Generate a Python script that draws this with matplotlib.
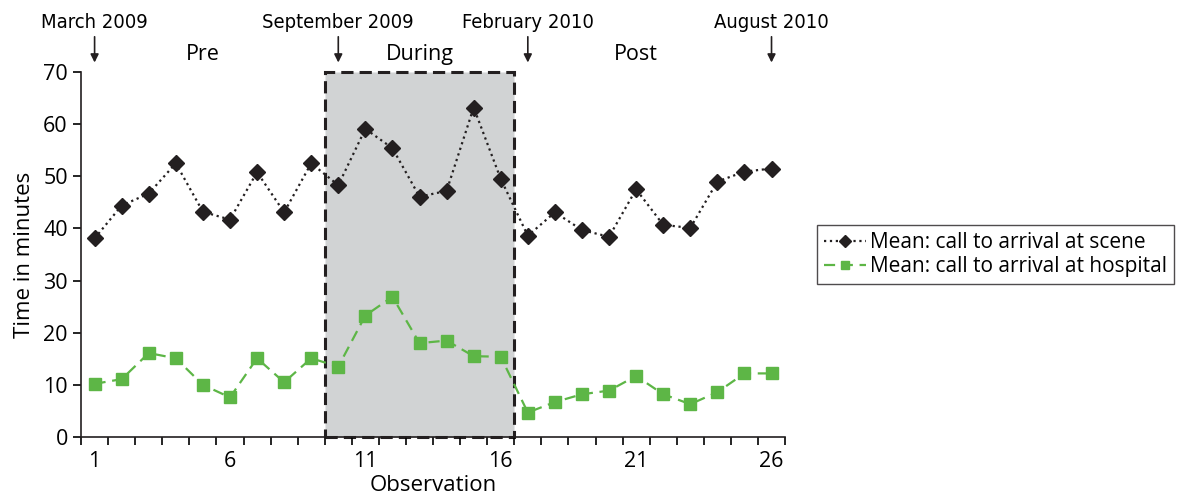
import numpy as np
import matplotlib.pyplot as plt
from matplotlib.patches import Rectangle

# dados
observacao = np.arange(1, 27)
cena = [38.1, 44.4, 46.7, 52.5, 43.2, 41.7, 50.8, 43.1, 52.5, 48.3,
        59.1, 55.4, 46.1, 47.2, 63.2, 49.5, 38.6, 43.1, 39.7, 38.4,
        47.5, 40.7, 40.1, 49.0, 50.9, 51.5]
hospital = [10.2, 11.1, 16.1, 15.1, 10.0, 7.6, 15.1, 10.5, 15.1, 13.5,
            23.3, 26.9, 18.0, 18.5, 15.5, 15.4, 4.7, 6.7, 8.2, 8.9,
            11.7, 8.2, 6.3, 8.6, 12.2, 12.2]

datas = ["March 2009", "September 2009", "February 2010", "August 2010"]
datas_x = [1, 10, 17, 26]
fases = ["Pre", "During", "Post"]
fases_x = [5, 13, 21]
intervencao = (9.5, 16.5)

plt.rcParams['font.family'] = ['Open Sans', 'DejaVu Sans']

fig = plt.figure(figsize=(11.92, 4.97), dpi=100)
ax = fig.add_axes([0.068, 0.1207, 0.5906, 0.7343])

ax.add_patch(Rectangle((intervencao[0], 0), intervencao[1] - intervencao[0], 70,
                       facecolor='#d1d3d4', edgecolor='#231f20', linestyle=(0, (4, 2)),
                       linewidth=2.2, zorder=1, clip_on=False))

ax.plot(observacao, cena, linestyle=':', color='#231f20', linewidth=1.6,
        marker='D', markersize=8, label='Mean: call to arrival at scene', zorder=3)
ax.plot(observacao, hospital, linestyle='--', dashes=(5, 3), color='#5db646', linewidth=1.6,
        marker='s', markersize=8, label='Mean: call to arrival at hospital', zorder=3)

ax.set_xlim(0.5, 26.5)
ax.set_ylim(0, 70)
ax.set_yticks(np.arange(0, 71, 10))
ax.set_xticks([1, 6, 11, 16, 21, 26])
ax.set_xticks(np.arange(0.5, 27, 1), minor=True)
ax.tick_params(axis='x', which='major', length=0, labelsize=15.5, pad=10)
ax.tick_params(axis='x', which='minor', length=6, width=1.2, direction='out')
ax.tick_params(axis='y', length=6, width=1.2, labelsize=15.5, direction='out')
for lado in ['top', 'right']:
    ax.spines[lado].set_visible(False)
for lado in ['left', 'bottom']:
    ax.spines[lado].set_linewidth(1.2)
    ax.spines[lado].set_color('#231f20')

ax.set_xlabel("Observation", fontsize=16, labelpad=2)
ax.set_ylabel("Time in minutes", fontsize=16, labelpad=6)

# anotações de datas e fases
for texto, xd in zip(datas, datas_x):
    ax.annotate("", xy=(xd, 71.3), xytext=(xd, 77.3),
                arrowprops=dict(arrowstyle='-|>', color='#231f20', lw=1.2, mutation_scale=12),
                annotation_clip=False)
    ax.text(xd, 77.6, texto, ha='center', va='bottom', fontsize=14.5,
            family=['Liberation Sans Narrow', 'DejaVu Sans'], stretch='condensed')
for texto, xf in zip(fases, fases_x):
    ax.text(xf, 71.3, texto, ha='center', va='bottom', fontsize=15.5)

leg = ax.legend(loc='center left', bbox_to_anchor=(1.03, 0.5), fontsize=15,
                frameon=True, fancybox=False, handlelength=2.0, handletextpad=0.2,
                borderpad=0.35, labelspacing=0.15, markerscale=0.8)
leg.get_frame().set_edgecolor('#231f20')
leg.get_frame().set_linewidth(1.0)

plt.savefig("out.png", dpi=100)
